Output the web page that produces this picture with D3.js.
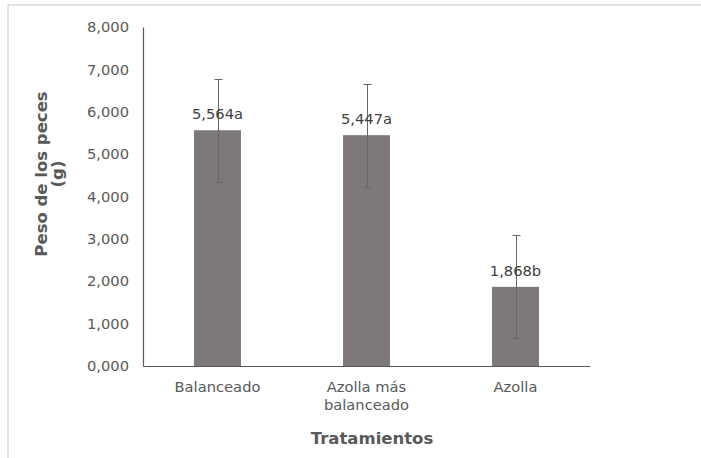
<!DOCTYPE html>
<html>
<head>
<meta charset="utf-8">
<script src="https://cdn.jsdelivr.net/npm/d3@7"></script>
<style>
  html, body { margin: 0; padding: 0; background: #fff; }
  svg { display: block; }
  text { font-family: "DejaVu Sans", Verdana, sans-serif; }
</style>
</head>
<body>
<svg id="chart" width="701" height="458"></svg>
<script>
const categories = [["Balanceado"], ["Azolla más", "balanceado"], ["Azolla"]];
const values = [5564, 5447, 1868];
const errors = [1218, 1215, 1215];
const valueLabels = ["5,564a", "5,447a", "1,868b"];
const tickValues = [0, 1000, 2000, 3000, 4000, 5000, 6000, 7000, 8000];
const tickLabels = ["0,000", "1,000", "2,000", "3,000", "4,000", "5,000", "6,000", "7,000", "8,000"];

const svg = d3.select("#chart");
const W = 701, H = 458;
const plot = { left: 143, right: 590, top: 27, bottom: 366 };
const textColor = "#595959";

// Chart frame (top and left border lines)
svg.append("line").attr("x1", 8).attr("x2", W).attr("y1", 5).attr("y2", 5)
  .attr("stroke", "#d9d9d9").attr("stroke-width", 1.5);
svg.append("line").attr("x1", 8).attr("x2", 8).attr("y1", 5).attr("y2", H)
  .attr("stroke", "#d9d9d9").attr("stroke-width", 1.5);

const idx = categories.map((d, i) => i);
const x = d3.scaleBand().domain(idx).range([plot.left, plot.right])
  .paddingInner(0.685).paddingOuter(0.3425);
const y = d3.scaleLinear().domain([0, 8000]).range([plot.bottom, plot.top]);

// Y axis
const yAxis = d3.axisLeft(y).tickValues(tickValues)
  .tickFormat((d, i) => tickLabels[i]).tickSize(0).tickPadding(14);
const gy = svg.append("g").attr("transform", `translate(${plot.left},0)`).call(yAxis);
gy.select(".domain").attr("stroke", "#595959").attr("stroke-width", 1.2);
gy.selectAll("text").attr("fill", textColor).style("font-size", "14.7px")
  .style("font-family", "'DejaVu Sans', Verdana, sans-serif");

// Bars
svg.append("g").selectAll("rect").data(values).join("rect")
  .attr("x", (d, i) => x(i))
  .attr("width", x.bandwidth())
  .attr("y", d => y(d))
  .attr("height", d => y(0) - y(d))
  .attr("fill", "#7e7878");

// X axis
const xAxis = d3.axisBottom(x).tickSize(0).tickFormat("");
const gx = svg.append("g").attr("transform", `translate(0,${plot.bottom})`).call(xAxis);
gx.select(".domain").attr("stroke", "#595959").attr("stroke-width", 1.2);

// Category labels
const catG = svg.append("g");
categories.forEach((lines, i) => {
  const t = catG.append("text")
    .attr("x", x(i) + x.bandwidth() / 2)
    .attr("y", 387)
    .attr("text-anchor", "middle")
    .attr("fill", textColor)
    .style("font-size", "14.7px");
  lines.forEach((ln, j) => {
    t.append("tspan").attr("x", x(i) + x.bandwidth() / 2)
      .attr("y", 387 + j * 18).attr("dy", "0.35em").text(ln);
  });
});

// Error bars
const eg = svg.append("g").attr("stroke", "#666666").attr("stroke-width", 1);
values.forEach((v, i) => {
  const cx = Math.round(x(i) + x.bandwidth() / 2) + 0.5;
  const y1 = Math.round(y(v + errors[i])) + 0.5, y2 = Math.round(y(v - errors[i])) + 0.5;
  eg.append("line").attr("x1", cx).attr("x2", cx).attr("y1", y1).attr("y2", y2);
  eg.append("line").attr("x1", cx - 4).attr("x2", cx + 4).attr("y1", y1).attr("y2", y1);
  eg.append("line").attr("x1", cx - 4).attr("x2", cx + 4).attr("y1", y2).attr("y2", y2);
});

// Value labels
svg.append("g").selectAll("text").data(values).join("text")
  .attr("x", (d, i) => x(i) + x.bandwidth() / 2)
  .attr("y", d => y(d) - 11)
  .attr("text-anchor", "middle")
  .attr("fill", "#404040")
  .style("font-size", "14.7px")
  .text((d, i) => valueLabels[i]);

// Axis titles
svg.append("text")
  .attr("x", 372).attr("y", 438).attr("dy", "0.35em")
  .attr("text-anchor", "middle").attr("fill", textColor)
  .style("font-size", "16.5px").style("font-weight", "bold")
  .text("Tratamientos");

const yt = svg.append("text")
  .attr("transform", "translate(0,174) rotate(-90)")
  .attr("text-anchor", "middle").attr("fill", textColor)
  .style("font-size", "16.5px").style("font-weight", "bold");
yt.append("tspan").attr("x", 0).attr("y", 41).attr("dy", "0.35em").text("Peso de los peces");
yt.append("tspan").attr("x", 0).attr("y", 57).attr("dy", "0.35em").text("(g)");
</script>
</body>
</html>
